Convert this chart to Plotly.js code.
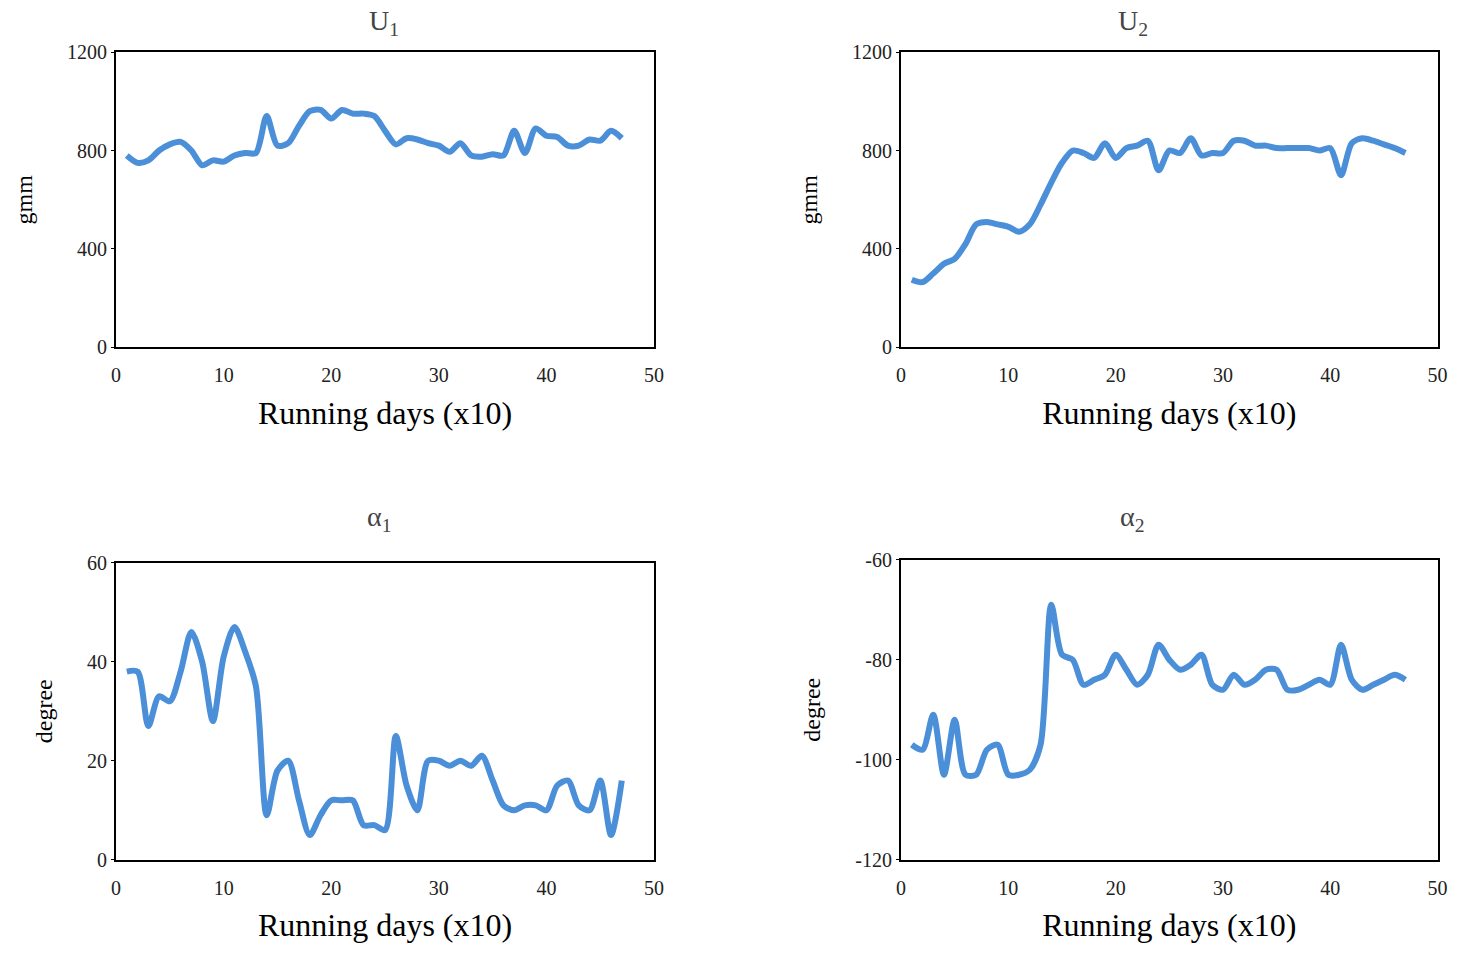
<!DOCTYPE html>
<html><head><script src="https://cdn.plot.ly/plotly-3.0.1.min.js"></script></head>
<body style="margin:0"><div id="c" style="width:1458px;height:965px"></div>
<script>
const days=[];for(let i=1;i<=47;i++)days.push(i);
const u1=[780,750,760,800,825,835,800,740,760,755,780,790,790,940,820,830,900,960,965,930,965,950,950,940,880,825,850,845,830,820,795,830,780,775,785,780,880,790,890,860,855,820,820,845,840,880,850];
const u2=[275,265,300,340,360,420,500,510,500,490,470,500,580,670,750,800,790,770,830,770,810,820,840,720,800,790,850,780,790,790,840,840,820,820,810,810,810,810,800,810,700,830,850,840,825,810,790];
const a1=[38,38,27,33,32,38,46,40,28,41,47,42,35,9,18,20,12,5,9,12,12,12,7,7,6,25,15,10,20,20,19,20,19,21,16,11,10,11,11,10,15,16,11,10,16,5,16];
const a2=[-97,-98,-91,-103,-92,-103,-103,-98,-97,-103,-103,-102,-97,-69,-79,-80,-85,-84,-83,-79,-82,-85,-83,-77,-80,-82,-81,-79,-85,-86,-83,-85,-84,-82,-82,-86,-86,-85,-84,-85,-77,-84,-86,-85,-84,-83,-84];
const a2Ticks=[-120,-100,-80,-60];
const a2TickText=['-120','-100','-80','-60'];
const col='#4a8fd8';
function tr(y,xa,ya){return {x:days,y:y,xaxis:xa,yaxis:ya,mode:'lines',line:{color:col,width:6,shape:'spline',smoothing:0.8},showlegend:false};}
const F='Liberation Serif, Times New Roman, serif';
function ax(dom,range,dt,title,anchor,isY){return {domain:dom,range:range,dtick:dt,anchor:anchor,showline:true,mirror:true,linecolor:'#000',linewidth:2,ticks:'outside',ticklen:isY?3:9,tickcolor:isY?'#000':'rgba(0,0,0,0)',showgrid:false,zeroline:false,tickfont:{family:F,size:20,color:'#222'},
 title:{text:title,font:{family:F,size:isY?24:32,color:'#000'},standoff:isY?28:16}};}
const X1=[0.0796,0.4486],X2=[0.618,0.986];
const layout={width:1458,height:965,margin:{l:0,r:0,t:0,b:0},paper_bgcolor:'#fff',plot_bgcolor:'#fff',
xaxis:ax(X1,[0,50],10,'Running days (x10)','y'),
yaxis:ax([0.640,0.946],[0,1200],400,'gmm','x',1),
xaxis2:ax(X2,[0,50],10,'Running days (x10)','y2'),
yaxis2:ax([0.640,0.946],[0,1200],400,'gmm','x2',1),
xaxis3:ax(X1,[0,50],10,'Running days (x10)','y3'),
yaxis3:ax([0.109,0.417],[0,60],20,'degree','x3',1),
xaxis4:ax(X2,[0,50],10,'Running days (x10)','y4'),
yaxis4:Object.assign(ax([0.109,0.420],[-120,-60],20,'degree','x4',1),{tickmode:'array',tickvals:a2Ticks,ticktext:a2TickText}),
annotations:[
{text:'U<sub>1</sub>',x:0.252,y:0.977,xref:'paper',yref:'paper',yanchor:'middle',showarrow:false,font:{family:F,size:28}},
{text:'U<sub>2</sub>',x:0.789,y:0.977,xref:'paper',yref:'paper',yanchor:'middle',showarrow:false,font:{family:F,size:28}},
{text:'α<sub>1</sub>',x:0.250,y:0.463,xref:'paper',yref:'paper',yanchor:'middle',showarrow:false,font:{family:F,size:28}},
{text:'α<sub>2</sub>',x:0.786,y:0.463,xref:'paper',yref:'paper',yanchor:'middle',showarrow:false,font:{family:F,size:28}}]};
Plotly.newPlot('c',[tr(u1,'x','y'),tr(u2,'x2','y2'),tr(a1,'x3','y3'),tr(a2,'x4','y4')],layout,{displayModeBar:false});
</script></body></html>
